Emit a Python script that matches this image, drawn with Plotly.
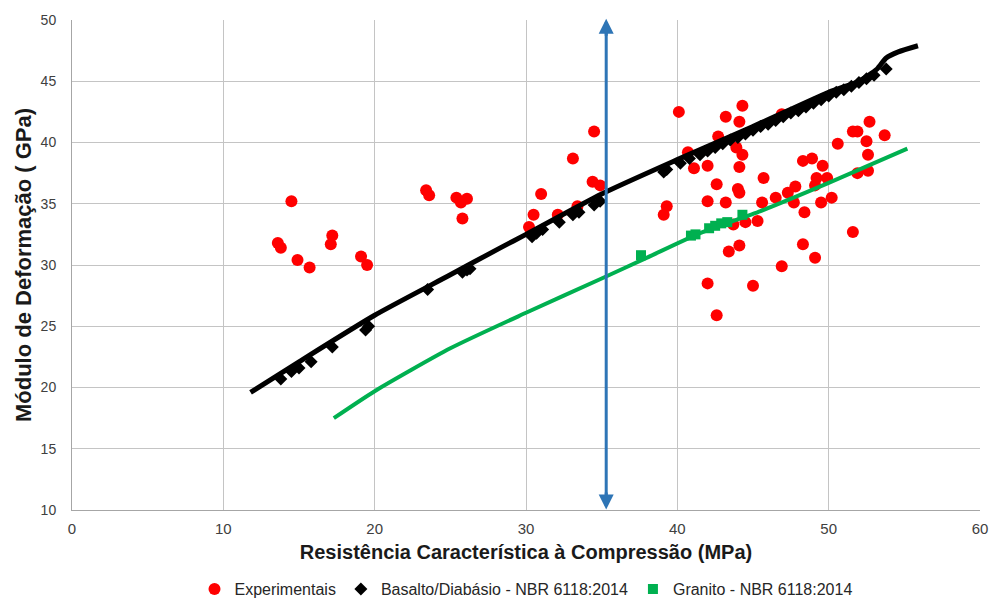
import plotly.graph_objects as go

# Experimental points (fck MPa, E GPa)
exp_x = [13.6, 13.8, 14.5, 14.9, 15.7, 17.2, 17.1, 19.1, 19.5,
         23.4, 23.6, 25.4, 25.7, 26.1, 25.8,
         30.2, 30.5, 31.0, 32.1, 33.4, 33.1, 34.5, 34.4, 34.9,
         39.3, 39.1, 40.1, 40.7, 41.1, 42.0, 42.6, 42.0, 43.2,
         43.2, 44.3, 44.1, 44.3, 44.1, 44.0, 44.1, 43.7, 44.5, 44.1, 43.4, 42.7, 43.9,
         45.7, 45.6, 45.3, 42.0, 42.6, 45.0, 46.9, 48.3, 49.1,
         46.5, 47.3, 47.8, 47.7, 48.4, 48.3, 48.9, 49.6, 49.2, 49.9, 49.1, 49.5, 50.2,
         50.6, 51.6, 51.9, 52.7, 52.5, 52.6, 52.6, 51.9, 53.7, 51.6, 46.9]
exp_y = [31.8, 31.4, 35.2, 30.4, 29.8, 32.4, 31.7, 30.7, 30.0,
         36.1, 35.7, 35.5, 35.1, 35.4, 33.8,
         33.1, 34.1, 35.8, 34.1, 34.8, 38.7, 40.9, 36.8, 36.5,
         34.8, 34.1, 42.5, 39.2, 37.9, 38.1, 36.6, 35.2, 35.1,
         42.1, 43.0, 41.7, 39.0, 38.0, 36.2, 35.9, 33.3, 33.5, 31.6, 31.1, 40.5, 39.6,
         37.1, 35.1, 33.6, 28.5, 25.9, 28.3, 29.9, 31.7, 30.6,
         35.5, 35.9, 36.4, 35.1, 34.3, 38.5, 38.7, 38.1, 37.1, 37.1, 36.5, 35.1, 35.5,
         39.9, 40.9, 40.9, 41.7, 40.1, 39.0, 37.7, 37.5, 40.6, 32.7, 42.3]

# Basalto/Diabásio markers
bas_x = [13.8, 14.5, 15.0, 15.8, 17.2, 19.4, 19.6, 23.5, 25.8, 26.1, 26.3,
         30.4, 30.7, 31.1, 32.2, 33.1, 33.5, 34.5, 34.9, 39.1, 39.3, 40.2,
         40.8, 41.5, 42.0, 42.5, 43.0, 43.5, 44.0, 44.5, 45.0, 45.5, 46.0, 46.5,
         47.0, 47.5, 48.0, 48.5, 49.0, 49.5, 50.0, 50.5, 51.0, 51.5, 52.0, 52.5,
         53.0, 53.8]
bas_y = [20.7, 21.3, 21.6, 22.1, 23.3, 24.7, 25.0, 28.0, 29.4, 29.6, 29.7,
         32.3, 32.6, 32.9, 33.5, 34.1, 34.3, 34.9, 35.2, 37.6, 37.8, 38.3,
         38.7, 39.0, 39.3, 39.6, 39.9, 40.2, 40.4, 40.7, 41.0, 41.3, 41.5, 41.8,
         42.1, 42.4, 42.6, 42.9, 43.2, 43.5, 43.8, 44.1, 44.3, 44.6, 44.9, 45.2,
         45.5, 46.0]

# Basalto/Diabásio curve
bas_line_x = [11.8, 15.0, 20.0, 25.0, 28.3, 30.0, 35.0, 40.0, 45.0, 50.0, 52.0, 53.2, 53.8, 54.6, 55.9]
bas_line_y = [19.6, 22.1, 25.9, 29.2, 31.4, 32.5, 35.8, 38.6, 41.3, 44.1, 45.0, 46.0, 46.9, 47.4, 47.9]

# Granito markers
gra_x = [37.6, 40.9, 41.2, 42.1, 42.5, 42.9, 43.3, 44.3]
gra_y = [30.8, 32.4, 32.5, 33.0, 33.2, 33.4, 33.5, 34.1]

# Granito curve
gra_line_x = [17.3, 20.0, 25.0, 30.0, 35.0, 38.0, 41.5, 45.5, 50.0, 55.2]
gra_line_y = [17.5, 19.7, 23.2, 26.1, 28.9, 30.6, 32.6, 34.4, 36.7, 39.5]

# Vertical double arrow
marker_x = 35.3
arrow_y = [10.05, 50.1]

font_family = "Liberation Sans, Arial, sans-serif"
grid_c = "#c4c4c4"
arrow_c = "#2e75b6"

fig = go.Figure()

fig.add_trace(go.Scatter(x=exp_x, y=exp_y, mode="markers", name="Experimentais",
                         marker=dict(symbol="circle", size=12, color="#ff0000")))
fig.add_trace(go.Scatter(x=bas_line_x, y=bas_line_y, mode="lines", showlegend=False,
                         line=dict(color="#000000", width=5, shape="spline", smoothing=0.6),
                         hoverinfo="skip"))
fig.add_trace(go.Scatter(x=bas_x, y=bas_y, mode="markers", name="Basalto/Diabásio - NBR 6118:2014",
                         marker=dict(symbol="diamond", size=10, color="#000000")))
fig.add_trace(go.Scatter(x=gra_line_x, y=gra_line_y, mode="lines", showlegend=False,
                         line=dict(color="#00b050", width=4, shape="spline", smoothing=0.6),
                         hoverinfo="skip"))
fig.add_trace(go.Scatter(x=gra_x, y=gra_y, mode="markers", name="Granito - NBR 6118:2014",
                         marker=dict(symbol="square", size=10, color="#00b050")))

fig.add_shape(type="line", x0=marker_x, x1=marker_x, y0=arrow_y[0] + 0.3, y1=arrow_y[1] - 0.3,
              xref="x", yref="y", line=dict(color=arrow_c, width=3))
for yend, ytail in [(arrow_y[0], arrow_y[0] + 1.5), (arrow_y[1], arrow_y[1] - 1.5)]:
    fig.add_annotation(x=marker_x, y=yend, ax=marker_x, ay=ytail, xref="x", yref="y",
                       axref="x", ayref="y", showarrow=True, arrowhead=2, arrowsize=1,
                       arrowwidth=3, arrowcolor=arrow_c, text="", standoff=0, startstandoff=0)

fig.update_layout(
    width=990, height=603,
    margin=dict(l=72, r=10, t=20, b=93),
    paper_bgcolor="white", plot_bgcolor="white",
    font=dict(family=font_family, color="#404040", size=14),
    showlegend=True,
    legend=dict(orientation="h", x=0.5, xanchor="center",
                y=0.023, yanchor="middle", yref="container",
                font=dict(size=16, color="#262626"), itemwidth=30,
                traceorder="normal"),
)
fig.update_xaxes(range=[0, 60], dtick=10, showgrid=True, gridcolor=grid_c, gridwidth=1,
                 showline=True, linecolor="#a6a6a6", linewidth=1, zeroline=False,
                 automargin=False,
                 ticks="outside", ticklen=5, tickcolor="rgba(0,0,0,0)",
                 tickfont=dict(size=15, color="#404040"),
                 title=dict(text="<b>Resistência Característica à Compressão (MPa)</b>",
                            font=dict(size=20, color="#1a1a1a"), standoff=8))
fig.update_yaxes(range=[10, 50], dtick=5, showgrid=True, gridcolor=grid_c, gridwidth=1,
                 showline=True, linecolor="#a6a6a6", linewidth=1, zeroline=False,
                 automargin=False,
                 ticks="outside", ticklen=12, tickcolor="rgba(0,0,0,0)",
                 tickfont=dict(size=14, color="#404040"),
                 title=dict(text="<b>Módulo de Deformação ( GPa)</b>",
                            font=dict(size=22, color="#1a1a1a"), standoff=2))

# Remove the default page margin so the 990x603 figure fills the window exactly
fig.write_html("out.html", config={"displayModeBar": False},
               post_script="document.body.style.margin='0';document.body.style.overflow='hidden';")
